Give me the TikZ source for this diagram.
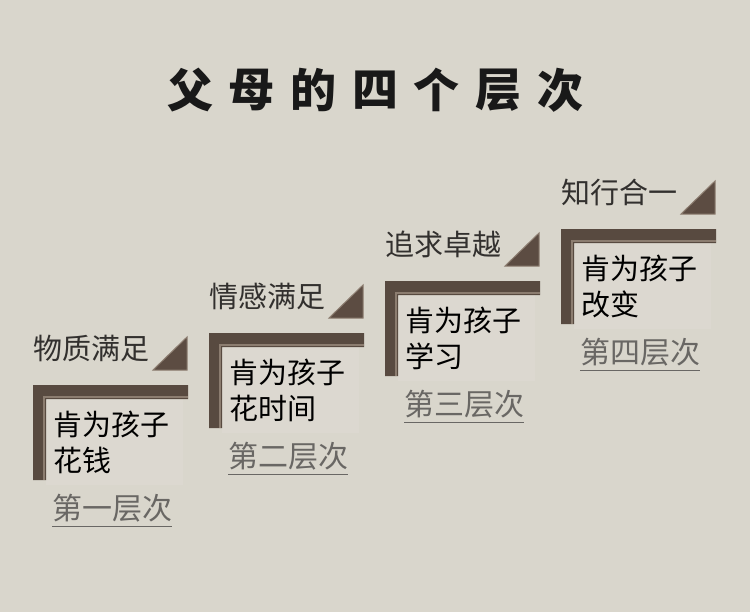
\documentclass[tikz,border=0pt]{standalone}
\usepackage{fontspec}
\setmainfont{Noto Sans CJK SC}
\usetikzlibrary{calc}
\definecolor{bg}{RGB}{217,214,204}
\definecolor{barc}{RGB}{88,74,64}
\definecolor{barhi}{RGB}{140,125,112}
\definecolor{tric}{RGB}{92,76,66}
\definecolor{labc}{RGB}{50,48,46}
\definecolor{levc}{RGB}{105,103,100}
\definecolor{innerc}{RGB}{228,221,216}
\tikzset{
  titlechar/.style={inner sep=0pt, font=\fontsize{46bp}{46bp}\selectfont\bfseries, text=black!90},
  labeltext/.style={anchor=west, inner sep=0pt, font=\fontsize{29bp}{29bp}\selectfont, text=labc},
  innertext/.style={anchor=west, inner sep=0pt, font=\fontsize{29bp}{29bp}\selectfont, text=black},
  leveltext/.style={anchor=west, inner sep=0pt, font=\fontsize{30bp}{30bp}\selectfont, text=levc},
  barshape/.style={fill=barc, draw=none},
  trishape/.style={fill=tric, draw=barhi, line width=1bp, line join=miter},
}
\begin{document}
\begin{tikzpicture}[x=1bp,y=-1bp]
\fill[bg] (0,0) rectangle (750,612);
\useasboundingbox (0,0) rectangle (750,612);
% title
\foreach \c [count=\i from 0] in {父,母,的,四,个,层,次}{
  \node[titlechar] (t\i) at ({190+61.7*\i},90) {\c};
}
% steps
\foreach \lab/\la/\lb/\lev [count=\i from 0] in {
  物质满足/肯为孩子/花钱/第一层次,
  情感满足/肯为孩子/花时间/第二层次,
  追求卓越/肯为孩子/学习/第三层次,
  知行合一/肯为孩子/改变/第四层次}{
  \pgfmathsetmacro{\X}{33+176*\i}
  \pgfmathsetmacro{\Y}{385-52*\i}
  % lighter inner panel
  \fill[innerc, opacity=0.35] (\X+13,\Y+14) rectangle (\X+150,\Y+100);
  % L bar
  \fill[barshape] (\X,\Y) -- (\X+155,\Y) -- (\X+155,\Y+14) -- (\X+13,\Y+14) -- (\X+13,\Y+95) -- (\X,\Y+95) -- cycle;
  \draw[barhi, line width=1.5bp] (\X+155,\Y+12) -- (\X+11,\Y+12) -- (\X+11,\Y+95);
  % triangle
  \filldraw[trishape] (\X+120,\Y-15) -- (\X+154,\Y-15) -- (\X+154,\Y-48) -- cycle;
  % texts
  \node[labeltext] (lab\i) at (\X,\Y-37) {\lab};
  \node[innertext] (ia\i) at (\X+20,\Y+39) {\la};
  \node[innertext] (ib\i) at (\X+20,\Y+75) {\lb};
  \node[leveltext] (lev\i) at (\X+19,\Y+123) {\lev};
  \draw[levc, line width=1.2bp] ($(lev\i.south west)+(0,4)$) -- ($(lev\i.south east)+(0,4)$);
}
\end{tikzpicture}
\end{document}
